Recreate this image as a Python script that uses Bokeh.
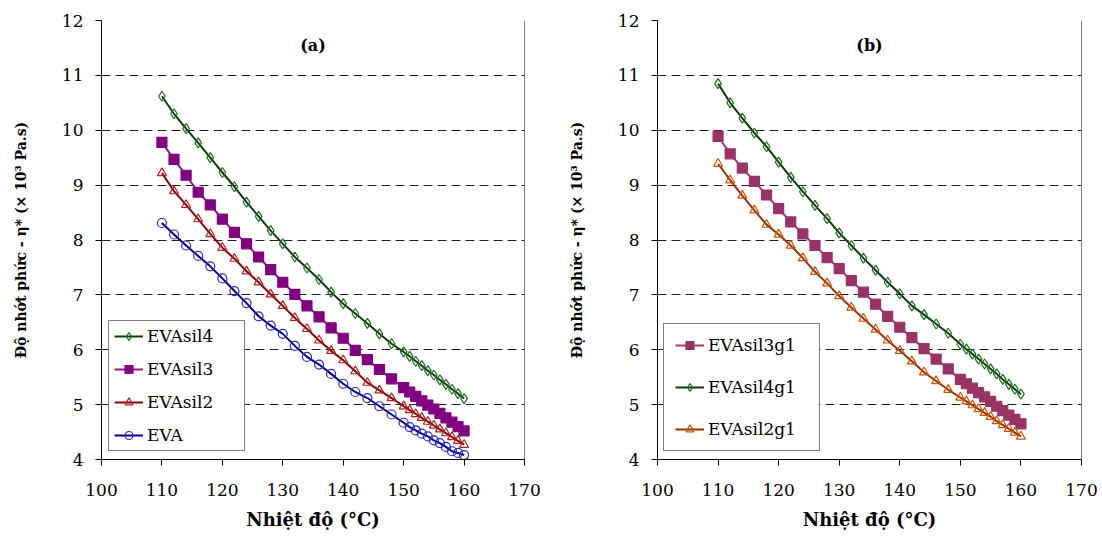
from bokeh.plotting import figure
from bokeh.layouts import row
from bokeh.models import Range1d, FixedTicker, Label, Span
from bokeh.embed import file_html
from bokeh.resources import INLINE

# ---------------- data ----------------
temps = [110, 112, 114, 116, 118, 120, 122, 124, 126, 128, 130, 132, 134, 136, 138,
         140, 142, 144, 146, 148, 150, 151, 152, 153, 154, 155, 156, 157, 158, 159, 160]

x_ticks = [100, 110, 120, 130, 140, 150, 160, 170]
y_ticks = [4, 5, 6, 7, 8, 9, 10, 11, 12]

# panel (a)
eva_sil4 = [10.62, 10.30, 10.03, 9.77, 9.50, 9.23, 8.97, 8.69, 8.43, 8.17, 7.93, 7.69, 7.49, 7.28, 7.05,
            6.84, 6.66, 6.48, 6.29, 6.11, 5.96, 5.88, 5.79, 5.71, 5.62, 5.54, 5.45, 5.37, 5.28, 5.20, 5.11]
eva_sil3 = [9.78, 9.47, 9.18, 8.87, 8.64, 8.38, 8.14, 7.93, 7.69, 7.46, 7.23, 7.01, 6.80, 6.60, 6.40,
            6.21, 5.99, 5.82, 5.64, 5.47, 5.31, 5.23, 5.15, 5.07, 4.99, 4.92, 4.84, 4.76, 4.68, 4.60, 4.52]
eva_sil2 = [9.22, 8.89, 8.64, 8.38, 8.11, 7.86, 7.66, 7.43, 7.23, 7.01, 6.80, 6.58, 6.38, 6.17, 5.98,
            5.81, 5.61, 5.40, 5.26, 5.12, 4.97, 4.90, 4.83, 4.76, 4.69, 4.62, 4.55, 4.48, 4.41, 4.34, 4.27]
eva = [8.31, 8.10, 7.90, 7.71, 7.52, 7.30, 7.07, 6.85, 6.61, 6.44, 6.29, 6.07, 5.87, 5.73, 5.56,
       5.38, 5.23, 5.12, 4.97, 4.82, 4.67, 4.59, 4.53, 4.47, 4.42, 4.35, 4.30, 4.23, 4.15, 4.12, 4.08]

# panel (b)
eva_sil3g1 = [9.89, 9.57, 9.31, 9.07, 8.82, 8.57, 8.33, 8.11, 7.90, 7.68, 7.48, 7.26, 7.05, 6.83, 6.61,
              6.41, 6.22, 6.02, 5.83, 5.65, 5.46, 5.38, 5.30, 5.22, 5.14, 5.06, 4.97, 4.89, 4.81, 4.73, 4.65]
eva_sil4g1 = [10.85, 10.50, 10.22, 9.95, 9.70, 9.42, 9.14, 8.88, 8.63, 8.39, 8.13, 7.90, 7.67, 7.45, 7.23,
              7.02, 6.80, 6.64, 6.47, 6.30, 6.10, 6.01, 5.92, 5.83, 5.74, 5.65, 5.56, 5.46, 5.37, 5.28, 5.19]
eva_sil2g1 = [9.39, 9.09, 8.81, 8.54, 8.28, 8.10, 7.90, 7.67, 7.42, 7.21, 6.98, 6.77, 6.57, 6.37, 6.17,
              5.98, 5.79, 5.59, 5.43, 5.27, 5.13, 5.06, 4.99, 4.92, 4.85, 4.78, 4.70, 4.63, 4.56, 4.49, 4.42]

x_title = "Nhiệt độ (°C)"
y_title = "Độ nhớt phức - η* (× 10³ Pa.s)"

FONT = "DejaVu Serif"

series_a = [
    ("EVAsil4", eva_sil4, "#0b3d0b", "diamond", "#1f6b1f", 10, False),
    ("EVAsil3", eva_sil3, "#8a1a8a", "square", "#800080", 10, True),
    ("EVAsil2", eva_sil2, "#8b0000", "triangle", "#b22222", 9, False),
    ("EVA", eva, "#00008b", "circle", "#2a2ac8", 9, False),
]
series_b = [
    ("EVAsil3g1", eva_sil3g1, "#a3386e", "square", "#993366", 10, True),
    ("EVAsil4g1", eva_sil4g1, "#0b3d0b", "diamond", "#1f6b1f", 10, False),
    ("EVAsil2g1", eva_sil2g1, "#993300", "triangle", "#cc5200", 9, False),
]


def make_panel(width, mbl, mbr, series, tag, leg_spacing, leg_padding, leg_label_width, leg_offset):
    p = figure(width=width, height=536, x_range=Range1d(100, 170), y_range=Range1d(4, 12),
               output_backend="svg", toolbar_location=None, title=None,
               min_border_left=mbl, min_border_right=mbr, min_border_top=20, min_border_bottom=77)
    p.outline_line_color = None
    p.background_fill_color = "white"
    p.border_fill_color = "white"
    p.xgrid.visible = False
    p.ygrid.grid_line_color = "#222222"
    p.ygrid.grid_line_width = 1
    p.ygrid.grid_line_dash = "9 5"

    p.xaxis.ticker = FixedTicker(ticks=x_ticks)
    p.yaxis.ticker = FixedTicker(ticks=y_ticks)
    for ax in (p.xaxis[0], p.yaxis[0]):
        ax.axis_line_color = "black"
        ax.axis_line_width = 1
        ax.major_tick_line_color = "black"
        ax.major_tick_out = 6
        ax.major_tick_in = 0
        ax.minor_tick_line_color = None
        ax.major_label_text_font = FONT
        ax.major_label_text_font_size = "17px"
        ax.major_label_text_color = "black"
        ax.axis_label_text_font = FONT
        ax.axis_label_text_font_style = "bold"
        ax.axis_label_text_color = "black"
    p.xaxis.axis_label = x_title
    p.xaxis.axis_label_text_font_size = "18px"
    p.xaxis.major_label_standoff = 18
    p.xaxis.axis_label_standoff = 10
    p.yaxis.axis_label = y_title
    p.yaxis.axis_label_text_font_size = "14px"
    p.yaxis.major_label_standoff = 12
    p.yaxis.axis_label_standoff = 30

    p.add_layout(Span(location=170, dimension="height", line_color="black", line_width=1))

    for label, vals, lc, mk, mc, ms, filled in series:
        p.line(temps, vals, line_color=lc, line_width=2, legend_label=label)
        p.scatter(temps, vals, marker=mk, size=ms, line_color=mc, line_width=1.2,
                  fill_color=mc if filled else None, fill_alpha=1.0 if filled else 0.0,
                  legend_label=label)

    lg = p.legend[0]
    lg.location = leg_offset
    lg.margin = 0
    lg.padding = leg_padding
    lg.spacing = leg_spacing
    lg.glyph_width = 29
    lg.glyph_height = 20
    lg.label_height = 20
    lg.label_width = leg_label_width
    lg.label_standoff = 4
    lg.label_text_font = FONT
    lg.label_text_font_size = "17px"
    lg.label_text_color = "black"
    lg.border_line_color = "black"
    lg.border_line_width = 1
    lg.background_fill_color = "white"
    lg.background_fill_alpha = 1.0

    p.add_layout(Label(x=135, y=11.55, text=tag, text_align="center", text_baseline="middle",
                       text_font=FONT, text_font_style="bold", text_font_size="16px",
                       text_color="black"))
    return p


pa = make_panel(555, 101, 31, series_a, "(a)", 13, 5, 92, (7, 8))
pb = make_panel(545, 102, 19, series_b, "(b)", 22, 11, 100, (6, 8))

layout = row(pa, pb, spacing=0)
open("out.html", "w").write(file_html(layout, INLINE))
